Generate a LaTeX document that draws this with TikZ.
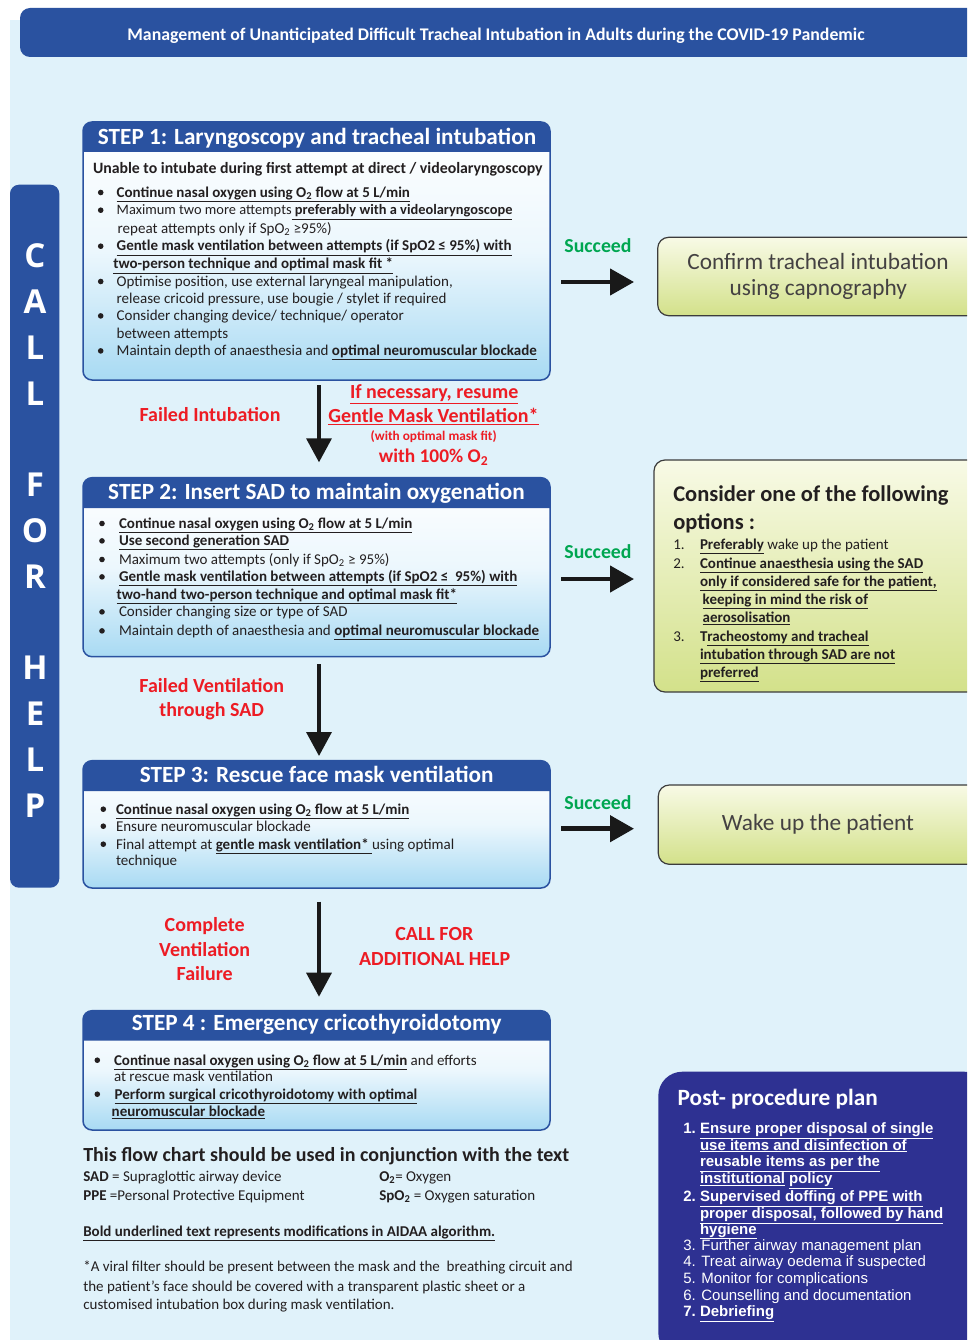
\documentclass[tikz,border=0pt]{standalone}
\usepackage{fontspec}
\setmainfont{Carlito}
\newfontfamily\arialf{Liberation Sans}
\newfontfamily\osans{Open Sans}
\usetikzlibrary{arrows.meta}
\definecolor{bgc}{RGB}{224,242,250}
\definecolor{hdr}{RGB}{42,82,160}
\definecolor{stepb}{RGB}{168,218,243}
\definecolor{stepm}{RGB}{236,247,253}
\definecolor{redc}{RGB}{237,28,36}
\definecolor{grn}{RGB}{0,166,81}
\definecolor{navy}{RGB}{46,49,146}
\definecolor{txt}{RGB}{35,31,32}
\definecolor{gtop}{RGB}{248,250,230}
\definecolor{gbot}{RGB}{211,225,138}
\definecolor{gbord}{RGB}{60,60,60}
\newcommand{\fs}[1]{\fontsize{#1}{#1}\selectfont}
\newcommand{\ub}[1]{\textbf{\underline{#1}}}
\newcommand{\Ot}{O\textsubscript{2}}
\begin{document}
\begin{tikzpicture}[x=1pt,y=-1pt,
  every node/.style={inner sep=0pt, outer sep=0pt},
  stepbox/.style={draw=hdr, line width=1.5pt, rounded corners=9pt, anchor=north west,
     top color=white, bottom color=stepb, middle color=stepm, minimum width=467pt},
  gbox/.style={draw=gbord, line width=1.2pt, rounded corners=11pt, anchor=north west,
     top color=gtop, bottom color=gbot},
  hdrT/.style={anchor=base, font=\fs{23.2}\bfseries, text=white},
  bodyT/.style={anchor=base west, font=\fs{15}, text=txt},
  bodyB/.style={anchor=base west, font=\fs{15.8}\bfseries, text=txt},
  redT/.style={anchor=base, font=\fs{20}\bfseries, text=redc},
  succ/.style={anchor=base, font=\fs{19.8}\bfseries, text=grn},
  gT/.style={anchor=base, font=\fs{23.3}, text=txt!85},
  cT/.style={anchor=base west, font=\fs{15}, text=txt},
  ppT/.style={anchor=base west, font=\arialf\fs{15}, text=white},
  ppB/.style={anchor=base west, font=\arialf\fs{15}\bfseries, text=white},
  footT/.style={anchor=base west, font=\fs{15}, text=txt},
  varrow/.style={-{Triangle[width=25pt,length=24pt]}, line width=3.5pt, draw=black!90},
  harrow/.style={-{Triangle[width=26pt,length=24pt]}, line width=4.5pt, draw=black!90},
  dot/.style={fill=txt}
]
\useasboundingbox (0,0) rectangle (967,1340);
\clip (0,0) rectangle (967,1340);
\fill[white] (0,0) rectangle (967,1340);
\fill[bgc] (10,20) rectangle (967,1340);

% title bar
\node[fill=hdr, rounded corners=10pt, anchor=north west, minimum width=975pt, minimum height=49pt] (tbar) at (20,8) {};
\node[anchor=base, font=\fs{17.8}\bfseries, text=white] (ttext) at (496,41) {Management of Unanticipated Difficult Tracheal Intubation in Adults during the COVID-19 Pandemic};

% call for help bar
\node[fill=hdr, rounded corners=9pt, anchor=north west, minimum width=49.3pt, minimum height=703pt] (cfh) at (10,184.7) {};
\foreach \l/\i in {C/0,A/1,L/2,L/3,F/5,O/6,R/7,H/9,E/10,L/11,P/12}
  \node[font=\osans\bfseries\fs{33}, text=white] (cfh\i) at (35,256+45.8*\i) {\l};

% ---------- STEP 1
\node[stepbox, minimum height=258pt] (s1) at (83,122) {};
\fill[hdr] (83,152) [rounded corners=9pt] -- (83,122) -- (550,122) [sharp corners] -- (550,152) -- cycle;
\node[hdrT] (s1h) at (317,145) {STEP 1: Laryngoscopy and tracheal intubation};
\node[bodyB] (s1u) at (93,173.3) {Unable to intubate during first attempt at direct / videolaryngoscopy};
\node[bodyT] (s1a) at (116.7,197.3) {\ub{Continue nasal oxygen using \Ot{} flow at 5 L/min}};
\node[bodyT, font=\fs{14.4}] (s1b) at (116.7,215) {Maximum two more attempts\ub{\ preferably with a videolaryngoscope}};
\node[bodyT] (s1c) at (117.7,233.7) {repeat attempts only if SpO\textsubscript{2} ≥95\%)};
\node[bodyT] (s1d) at (116.7,251) {\ub{Gentle mask ventilation between attempts (if SpO2 ≤ 95\%) with}};
\node[bodyT] (s1e) at (113.3,269) {\ub{two-person technique and optimal mask fit *}};
\node[bodyT] (s1f) at (116.7,286.3) {Optimise position, use external laryngeal manipulation,};
\node[bodyT] (s1g) at (116.7,303.7) {release cricoid pressure, use bougie / stylet if required};
\node[bodyT] (s1i) at (116.7,320.7) {Consider changing device/ technique/ operator};
\node[bodyT] (s1j) at (116.7,338) {between attempts};
\node[bodyT] (s1k) at (116.7,355.7) {Maintain depth of anaesthesia and \ub{optimal neuromuscular blockade}};
\foreach \y in {197.3,215,251,286.3,320.7,355.7} \fill[dot] (100.7,\y-4.8) circle (2.8pt);

% ---------- STEP 2
\node[stepbox, minimum height=179pt] (s2) at (83,477.7) {};
\fill[hdr] (83,508) [rounded corners=9pt] -- (83,477.7) -- (550,477.7) [sharp corners] -- (550,508) -- cycle;
\node[hdrT] (s2h) at (316.5,499) {STEP 2: Insert SAD to maintain oxygenation};
\node[bodyT] (s2a) at (119,528.3) {\ub{Continue nasal oxygen using \Ot{} flow at 5 L/min}};
\node[bodyT] (s2b) at (119,545.7) {\ub{Use second generation SAD}};
\node[bodyT] (s2c) at (119,564.3) {Maximum two attempts (only if SpO\textsubscript{2} ≥ 95\%)};
\node[bodyT] (s2d) at (119,581.7) {\ub{Gentle mask ventilation between attempts (if SpO2 ≤~ 95\%) with}};
\node[bodyT] (s2e) at (116.7,599) {\ub{two-hand two-person technique and optimal mask fit*}};
\node[bodyT] (s2f) at (119,616.7) {Consider changing size or type of SAD};
\node[bodyT] (s2g) at (119,635.7) {Maintain depth of anaesthesia and \ub{optimal neuromuscular blockade}};
\foreach \y in {528.3,545.7,564.3,581.7,616.7,635.7} \fill[dot] (102,\y-4.8) circle (2.8pt);

% ---------- STEP 3
\node[stepbox, minimum height=127.3pt] (s3) at (83,760.7) {};
\fill[hdr] (83,791) [rounded corners=9pt] -- (83,760.7) -- (550,760.7) [sharp corners] -- (550,791) -- cycle;
\node[hdrT] (s3h) at (316.7,782.3) {STEP 3: Rescue face mask ventilation};
\node[bodyT] (s3a) at (116,814) {\ub{Continue nasal oxygen using \Ot{} flow at 5 L/min}};
\node[bodyT] (s3b) at (116,831) {Ensure neuromuscular blockade};
\node[bodyT] (s3c) at (116,849) {Final attempt at \ub{gentle mask ventilation*\ }using optimal};
\node[bodyT] (s3d) at (116,865) {technique};
\foreach \y in {814,831,849} \fill[dot] (103.3,\y-4.8) circle (2.8pt);

% ---------- STEP 4
\node[stepbox, minimum height=119.3pt] (s4) at (83,1010.7) {};
\fill[hdr] (83,1040.7) [rounded corners=9pt] -- (83,1010.7) -- (550,1010.7) [sharp corners] -- (550,1040.7) -- cycle;
\node[hdrT] (s4h) at (316.7,1030.7) {STEP 4 : Emergency cricothyroidotomy};
\node[bodyT] (s4a) at (114,1065) {\ub{Continue nasal oxygen using \Ot{} flow at 5 L/min} and efforts};
\node[bodyT] (s4b) at (114,1081) {at rescue mask ventilation};
\node[bodyT] (s4c) at (114.7,1099) {\ub{Perform surgical cricothyroidotomy with optimal}};
\node[bodyT] (s4d) at (111.7,1116.7) {\ub{neuromuscular blockade}};
\foreach \y in {1065,1099} \fill[dot] (97.3,\y-4.8) circle (2.8pt);

% ---------- red labels
\node[redT] (fi) at (210,421.7) {Failed Intubation};
\node[redT] (r1) at (434.2,398.3) {\underline{If necessary, resume}};
\node[redT] (r2) at (433.5,422.3) {\underline{Gentle Mask Ventilation*}};
\node[redT, font=\fs{13.3}\bfseries] (r3) at (433.7,440) {(with optimal mask fit)};
\node[redT, font=\fs{19.4}\bfseries] (r4) at (433.5,462.7) {with 100\% \Ot};
\node[redT] (fv1) at (211.7,692.3) {Failed Ventilation};
\node[redT] (fv2) at (211.7,716.7) {through SAD};
\node[redT] (cv1) at (204.7,931.7) {Complete};
\node[redT] (cv2) at (204.7,956) {Ventilation};
\node[redT] (cv3) at (204.7,980) {Failure};
\node[redT] (ah1) at (434.3,940.7) {CALL FOR};
\node[redT] (ah2) at (434.7,965) {ADDITIONAL HELP};

% ---------- right boxes
\node[gbox, minimum width=330pt, minimum height=78.4pt] (g1) at (657.7,237.3) {};
\node[gT] (g1a) at (818,269.3) {Confirm tracheal intubation};
\node[gT] (g1b) at (818.3,295.7) {using capnography};

\node[gbox, minimum width=335pt, minimum height=232pt] (g2) at (654,460) {};
\node[cT, font=\fs{22.5}\bfseries] (g2t1) at (673.3,501) {Consider one of the following};
\node[cT, font=\fs{22.5}\bfseries] (g2t2) at (673.3,529) {options :};
\node[cT] (g2n1) at (673.3,549.3) {1.};
\node[cT] (g2l1) at (700,549.3) {\ub{Preferably} wake up the patient};
\node[cT] (g2n2) at (673.3,568.3) {2.};
\node[cT] (g2l2) at (700,568.3) {\ub{Continue anaesthesia using the SAD}};
\node[cT] (g2l3) at (700,586) {\ub{only if considered safe for the patient,}};
\node[cT] (g2l4) at (702.7,604.3) {\ub{keeping in mind the risk of}};
\node[cT] (g2l5) at (702.7,622.3) {\ub{aerosolisation}};
\node[cT] (g2n3) at (673.3,641) {3.};
\node[cT] (g2l6) at (700,641) {\textbf{T}\ub{racheostomy and tracheal}};
\node[cT] (g2l7) at (700,659.3) {\ub{intubation through SAD are not}};
\node[cT] (g2l8) at (700,677.7) {\ub{preferred}};

\node[gbox, minimum width=330pt, minimum height=79.3pt] (g3) at (658.3,785) {};
\node[gT] (g3a) at (818,830) {Wake up the patient};

\node[succ] (sc1) at (598,252.5) {Succeed};
\node[succ] (sc2) at (598,558.5) {Succeed};
\node[succ] (sc3) at (598,809.3) {Succeed};

% ---------- arrows
\coordinate (y1) at (0,282);
\coordinate (y2) at (0,579);
\coordinate (y3) at (0,828.7);
\draw[harrow, shorten <=11pt, shorten >=23.7pt] (s1.east |- y1) -- (g1.west |- y1);
\draw[harrow, shorten <=11pt, shorten >=20pt] (s2.east |- y2) -- (g2.west |- y2);
\draw[harrow, shorten <=11pt, shorten >=24.3pt] (s3.east |- y3) -- (g3.west |- y3);
\draw[varrow, shorten <=5pt, shorten >=15.4pt] ([xshift=2.5pt]s1.south) -- ([xshift=2.5pt]s2.north);
\draw[varrow, shorten <=7.3pt, shorten >=4.7pt] ([xshift=2.5pt]s2.south) -- ([xshift=2.5pt]s3.north);
\draw[varrow, shorten <=13.7pt, shorten >=14pt] ([xshift=2.5pt]s3.south) -- ([xshift=2.5pt]s4.north);

% ---------- bottom notes
\node[footT, font=\fs{20}\bfseries] (n1) at (83.3,1161.7) {This flow chart should be used in conjunction with the text};
\node[footT] (n2) at (83.3,1181.7) {\textbf{SAD} = Supraglottic airway device};
\node[footT] (n3) at (379.3,1181.7) {\textbf{\Ot}= Oxygen};
\node[footT] (n4) at (83.3,1200) {\textbf{PPE} =Personal Protective Equipment};
\node[footT] (n5) at (379.3,1200) {\textbf{SpO\textsubscript{2}} = Oxygen saturation};
\node[footT] (n6) at (83.3,1236.7) {\ub{Bold underlined text represents modifications in AIDAA algorithm.}};
\node[footT] (n7) at (83.3,1271.7) {*A viral filter should be present between the mask and the~ breathing circuit and};
\node[footT] (n8) at (83.3,1291) {the patient’s face should be covered with a transparent plastic sheet or a};
\node[footT] (n9) at (83.3,1309) {customised intubation box during mask ventilation.};

% ---------- post-procedure plan
\node[fill=navy, rounded corners=24pt, anchor=north west, minimum width=330pt, minimum height=285pt] (pp) at (658.3,1071.7) {};
\node[anchor=base west, font=\fs{23.3}\bfseries, text=white] (ppt) at (677.7,1105) {Post- procedure plan};
\node[ppB] (pn1) at (683.3,1133.3) {1.};
\node[ppB] (p1a) at (700,1133.3) {\underline{Ensure proper disposal of single}};
\node[ppB] (p1b) at (700,1150) {\underline{use items and disinfection of}};
\node[ppB] (p1c) at (700,1166.7) {\underline{reusable items as per the}};
\node[ppB] (p1d) at (700,1183.3) {\underline{institutional} \underline{policy}};
\node[ppB] (pn2) at (683.3,1201.7) {2.};
\node[ppB] (p2a) at (700,1201.7) {\underline{Supervised doffing of PPE with}};
\node[ppB] (p2b) at (700,1218.3) {\underline{proper disposal, followed by hand}};
\node[ppB] (p2c) at (700,1234) {\underline{hygiene}};
\node[ppT] (p3) at (683.3,1250) {3. Further airway management plan};
\node[ppT] (p4) at (683.3,1266.7) {4. Treat airway oedema if suspected};
\node[ppT] (p5) at (683.3,1283.3) {5. Monitor for complications};
\node[ppT] (p6) at (683.3,1300) {6. Counselling and documentation};
\node[ppB] (pn7) at (683.3,1316.7) {7.};
\node[ppB] (p7) at (700,1316.7) {\underline{Debriefing}};
\end{tikzpicture}
\end{document}
